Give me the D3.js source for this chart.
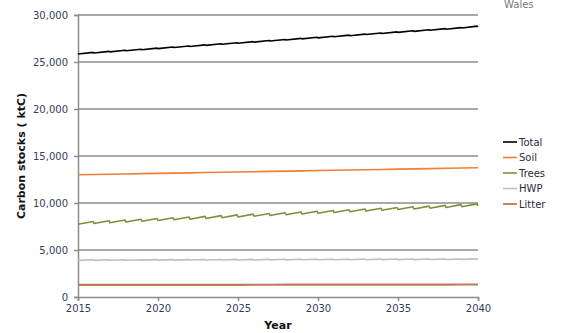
<!DOCTYPE html>
<html>
<head>
<meta charset="utf-8">
<script src="https://cdn.jsdelivr.net/npm/d3@7"></script>
<style>
  html, body { margin: 0; padding: 0; background: #fff; }
  svg { display: block; }
</style>
</head>
<body>
<svg id="chart" width="564" height="333"></svg>
<script>
// Projected carbon stocks (ktC), Wales, 2015-2040
const years = [2015, 2016, 2017, 2018, 2019, 2020, 2021, 2022, 2023, 2024, 2025, 2026, 2027,
  2028, 2029, 2030, 2031, 2032, 2033, 2034, 2035, 2036, 2037, 2038, 2039, 2040];
const xTicks = [2015, 2020, 2025, 2030, 2035, 2040];
const yTicks = [0, 5000, 10000, 15000, 20000, 25000, 30000];

// Series with an annual saw-tooth: value at the start of each year, and just before the next drop
const totalStart = [25850, 25960, 26080, 26190, 26310, 26420, 26540, 26650, 26770, 26880, 27000, 27110, 27230,
  27340, 27460, 27570, 27690, 27800, 27920, 28030, 28150, 28260, 28380, 28490, 28610, 28720];
const totalPeak = [26020, 26130, 26250, 26360, 26480, 26590, 26710, 26820, 26940, 27050, 27170, 27280, 27400,
  27510, 27630, 27740, 27860, 27970, 28090, 28200, 28320, 28430, 28550, 28660, 28820];
const treesStart = [7740, 7820, 7890, 7970, 8050, 8130, 8210, 8280, 8360, 8440, 8520, 8590, 8670,
  8750, 8830, 8910, 8980, 9060, 9140, 9220, 9300, 9370, 9450, 9530, 9610, 9690];
const treesPeak = [8040, 8120, 8190, 8270, 8350, 8430, 8510, 8580, 8660, 8740, 8820, 8890, 8970,
  9050, 9130, 9210, 9280, 9360, 9440, 9520, 9600, 9670, 9750, 9830, 9910];
const hwpStart = [3900, 3900, 3910, 3910, 3920, 3920, 3920, 3930, 3930, 3940, 3940, 3940, 3950,
  3950, 3960, 3960, 3960, 3970, 3970, 3980, 3980, 3980, 3990, 3990, 4000, 4000];
const hwpPeak = [3960, 3960, 3970, 3970, 3980, 3980, 3980, 3990, 3990, 4000, 4000, 4000, 4010,
  4010, 4020, 4020, 4020, 4030, 4030, 4040, 4040, 4040, 4050, 4050, 4060];
// Smooth annual series
const soil = [13000, 13030, 13060, 13090, 13120, 13150, 13180, 13210, 13240, 13270, 13300, 13330, 13360,
  13390, 13420, 13450, 13480, 13510, 13540, 13570, 13600, 13630, 13660, 13690, 13720, 13750];
const litter = [1280, 1282, 1284, 1286, 1288, 1290, 1292, 1294, 1296, 1298, 1300, 1302, 1304,
  1306, 1308, 1310, 1312, 1314, 1316, 1318, 1320, 1322, 1324, 1326, 1328, 1330];

const seriesNames = ["Total", "Soil", "Trees", "HWP", "Litter"];
const seriesColors = ["#000000", "#f07f32", "#77933c", "#bfbfbf", "#c0785a"];
const legendColors = ["#000000", "#f07f32", "#77933c", "#bfbfbf", "#b8653c"];

function sawPoints(start, peak) {
  const pts = [];
  years.forEach((yr, i) => {
    pts.push([yr, start[i]]);
    if (i < peak.length) pts.push([yr + 0.94, peak[i]]);
  });
  return pts;
}
function annualPoints(vals) { return years.map((yr, i) => [yr, vals[i]]); }

const seriesData = {
  Total: sawPoints(totalStart, totalPeak),
  Soil: annualPoints(soil),
  Trees: sawPoints(treesStart, treesPeak),
  HWP: sawPoints(hwpStart, hwpPeak),
  Litter: annualPoints(litter)
};

const svg = d3.select("#chart");
const margin = { left: 78, right: 86, top: 15, bottom: 36 };
const W = 564, H = 333;
const x = d3.scaleLinear().domain([2015, 2040]).range([margin.left, W - margin.right]);
const y = d3.scaleLinear().domain([0, 30000]).range([H - margin.bottom, margin.top]);

const labelColor = "#343d5c";
const gridColor = "#8c8c8c";
const fontStack = "'DejaVu Sans', Verdana, sans-serif";

// Horizontal gridlines
svg.append("g")
  .selectAll("line")
  .data(yTicks.filter(d => d > 0))
  .join("line")
  .attr("x1", x(2015)).attr("x2", x(2040))
  .attr("y1", d => y(d)).attr("y2", d => y(d))
  .attr("stroke", gridColor).attr("stroke-width", 1.5);

// Y axis
const yAxis = svg.append("g")
  .attr("transform", `translate(${x(2015)},0)`)
  .call(d3.axisLeft(y).tickValues(yTicks).tickSize(4).tickPadding(6).tickFormat(d3.format(",")));
yAxis.select(".domain").attr("stroke", gridColor).attr("stroke-width", 1.5);
yAxis.selectAll(".tick line").attr("stroke", gridColor).attr("stroke-width", 1.5);
yAxis.selectAll("text").attr("fill", labelColor)
  .style("font-family", fontStack).style("font-size", "10px");

// X axis
const xAxis = svg.append("g")
  .attr("transform", `translate(0,${y(0)})`)
  .call(d3.axisBottom(x).tickValues(xTicks).tickSize(4).tickPadding(4).tickFormat(d3.format("d")));
xAxis.select(".domain").attr("stroke", gridColor).attr("stroke-width", 1.5);
xAxis.selectAll(".tick line").attr("stroke", gridColor).attr("stroke-width", 1.5);
xAxis.selectAll("text").attr("fill", labelColor)
  .style("font-family", fontStack).style("font-size", "10px");

// Series lines
const line = d3.line().x(d => x(d[0])).y(d => y(d[1]));
const drawOrder = ["Litter", "HWP", "Trees", "Soil", "Total"];
drawOrder.forEach(name => {
  const i = seriesNames.indexOf(name);
  svg.append("path")
    .datum(seriesData[name])
    .attr("d", line)
    .attr("fill", "none")
    .attr("stroke", seriesColors[i])
    .attr("stroke-width", name === "Litter" ? 2.2 : 1.6)
    .attr("stroke-linejoin", "round");
});

// Axis titles
svg.append("text")
  .attr("x", (x(2015) + x(2040)) / 2).attr("y", 329)
  .attr("text-anchor", "middle")
  .style("font-family", fontStack)
  .style("font-size", "11px").style("font-weight", "bold")
  .attr("fill", "#111")
  .text("Year");

svg.append("text")
  .attr("transform", `translate(25,${y(15000)}) rotate(-90)`)
  .attr("text-anchor", "middle")
  .style("font-family", fontStack)
  .style("font-size", "11px").style("font-weight", "bold")
  .attr("fill", "#111")
  .text("Carbon stocks ( ktC)");

// Region label
svg.append("text")
  .attr("x", 504).attr("y", 8)
  .style("font-family", fontStack)
  .style("font-size", "10px")
  .attr("fill", "#777")
  .text("Wales");

// Legend
const legend = svg.append("g").attr("transform", "translate(503,142)");
seriesNames.forEach((name, i) => {
  const g = legend.append("g").attr("transform", `translate(0,${i * 15.5})`);
  g.append("line").attr("x1", 0).attr("x2", 14).attr("y1", 0).attr("y2", 0)
    .attr("stroke", legendColors[i]).attr("stroke-width", 1.6);
  g.append("text").attr("x", 16).attr("y", 0).attr("dy", "0.35em")
    .style("font-family", fontStack)
    .style("font-size", "10px")
    .attr("fill", "#2a2a3a")
    .text(name);
});
</script>
</body>
</html>
